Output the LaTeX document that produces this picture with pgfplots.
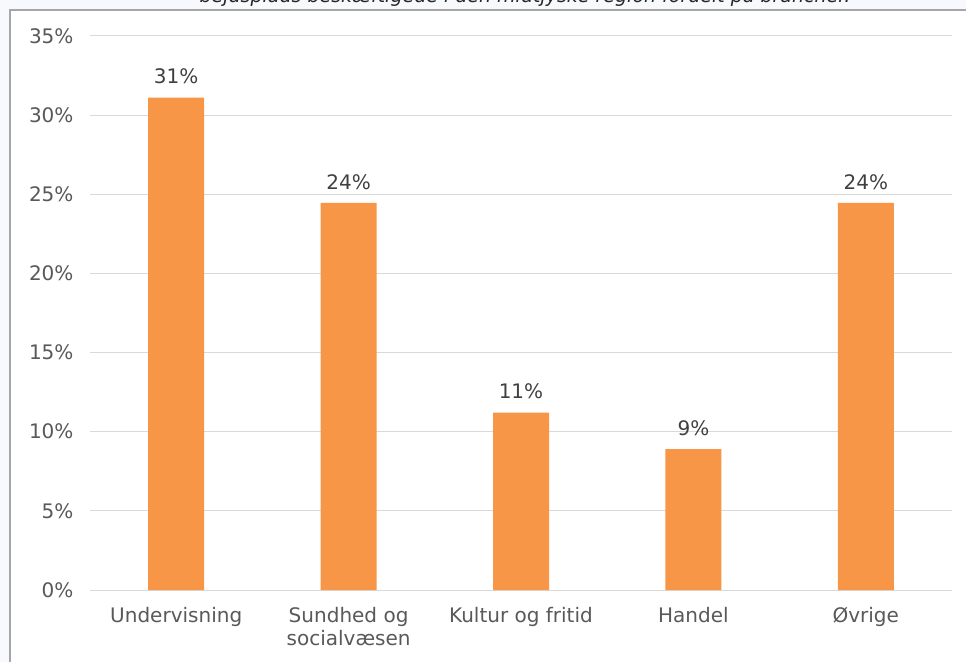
\documentclass[border=0pt]{standalone}
\usepackage{pgfplots}
\pgfplotsset{compat=1.18}
\usepackage{fontspec}
\setmainfont{DejaVu Sans}
\definecolor{barorange}{HTML}{F79646}
\definecolor{txtgray}{HTML}{595959}
\definecolor{gridgray}{HTML}{D9D9D9}
\definecolor{framegray}{HTML}{A6A6A6}
\definecolor{bgblue}{HTML}{F7F9FD}
\begin{document}
\begin{tikzpicture}
\path[use as bounding box] (-90pt,-72pt) rectangle (876pt,590pt);
\fill[bgblue] (-90pt,-72pt) rectangle (876pt,590pt);
\fill[white] (-80pt,-72pt) rectangle (876pt,580pt);
\draw[framegray, line width=1.2pt] (-80pt,-72pt) -- (-80pt,580pt) -- (876pt,580pt);
\node[anchor=base, font=\fontsize{19}{22}\selectfont\itshape, text=black!85, inner sep=0pt]
  at (435pt,587pt) {bejdsplads beskæftigede i den midtjyske region fordelt på brancher.};
\begin{axis}[
    at={(0pt,0pt)}, anchor=south west,
    scale only axis,
    width=862pt, height=554pt,
    ymin=0, ymax=35,
    xmin=-0.5, xmax=4.5,
    ytick={0,5,...,35},
    yticklabel={\pgfmathprintnumber{\tick}\%},
    xtick=data,
    xticklabels={Undervisning, {Sundhed og\\socialvæsen}, Kultur og fritid, Handel, Øvrige},
    major tick length=0pt,
    axis line style={draw=none},
    ymajorgrids,
    grid style={gridgray, line width=1pt},
    font=\fontsize{20}{23}\selectfont,
    tick label style={text=txtgray},
    /pgf/number format/assume math mode=true,
    yticklabel style={xshift=-13pt},
    xticklabel style={align=center, yshift=-14pt},
    ybar, bar width=56pt,
    nodes near coords={\pgfmathprintnumber[fixed,precision=0]{\pgfplotspointmeta}\%},
    nodes near coords style={text=black!75, yshift=10pt},
    point meta=explicit symbolic,
  ]
  \addplot[fill=barorange, draw=none]
    coordinates {(0,31.1)[31] (1,24.45)[24] (2,11.2)[11] (3,8.9)[9] (4,24.45)[24]};
\end{axis}
\end{tikzpicture}
\end{document}
